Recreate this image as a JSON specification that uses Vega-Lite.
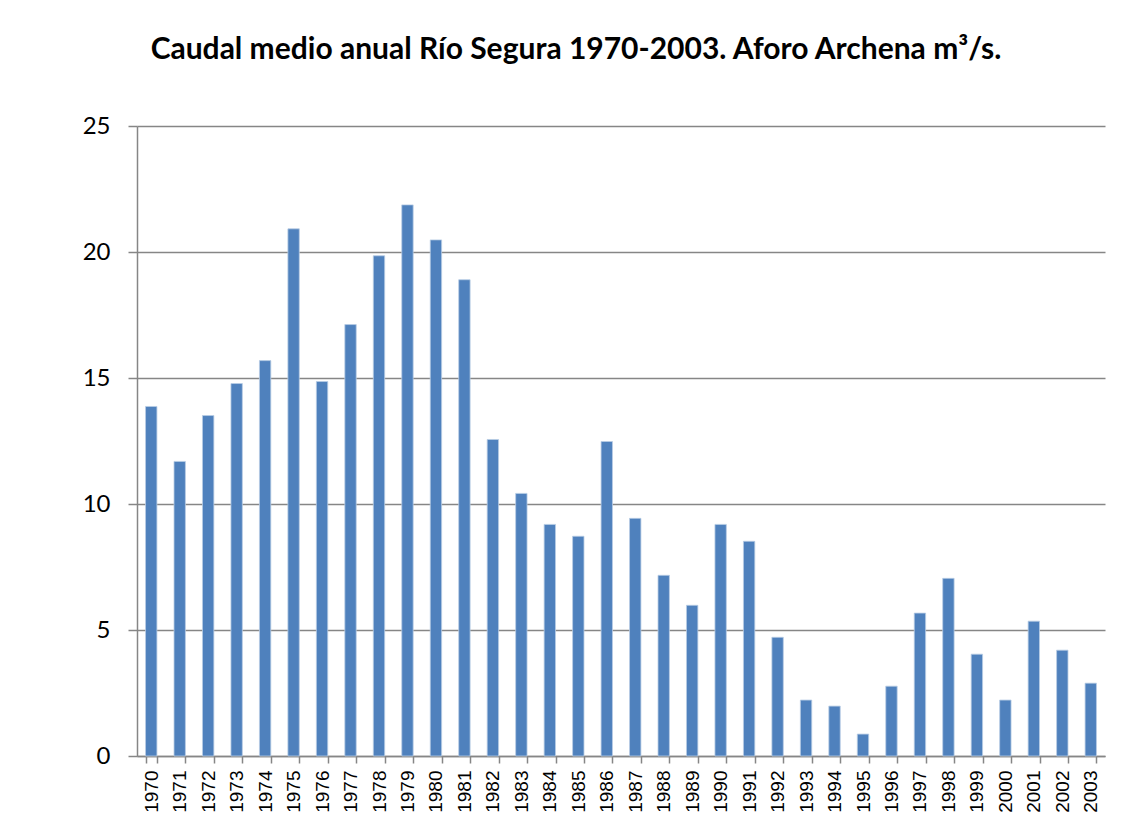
{
  "$schema": "https://vega.github.io/schema/vega-lite/v6.json",
  "autosize": {"type": "none"},
  "width": 968,
  "height": 630,
  "padding": {"left": 137, "top": 126, "right": 33, "bottom": 69},
  "background": "white",
  "title": {
    "text": "Caudal medio anual Río Segura 1970-2003. Aforo Archena m³/s.",
    "font": "Lato",
    "fontSize": 30,
    "fontWeight": "bold",
    "color": "black",
    "anchor": "middle",
    "dx": -45,
    "offset": 49
  },
  "data": {
    "values": [
      {"year": "1970", "caudal": 13.87},
      {"year": "1971", "caudal": 11.69},
      {"year": "1972", "caudal": 13.51},
      {"year": "1973", "caudal": 14.78},
      {"year": "1974", "caudal": 15.69},
      {"year": "1975", "caudal": 20.92},
      {"year": "1976", "caudal": 14.86},
      {"year": "1977", "caudal": 17.12},
      {"year": "1978", "caudal": 19.85},
      {"year": "1979", "caudal": 21.87},
      {"year": "1980", "caudal": 20.48},
      {"year": "1981", "caudal": 18.9},
      {"year": "1982", "caudal": 12.56},
      {"year": "1983", "caudal": 10.42},
      {"year": "1984", "caudal": 9.19},
      {"year": "1985", "caudal": 8.72},
      {"year": "1986", "caudal": 12.48},
      {"year": "1987", "caudal": 9.43},
      {"year": "1988", "caudal": 7.17},
      {"year": "1989", "caudal": 5.98},
      {"year": "1990", "caudal": 9.19},
      {"year": "1991", "caudal": 8.52},
      {"year": "1992", "caudal": 4.71},
      {"year": "1993", "caudal": 2.22},
      {"year": "1994", "caudal": 1.98},
      {"year": "1995", "caudal": 0.87},
      {"year": "1996", "caudal": 2.77},
      {"year": "1997", "caudal": 5.67},
      {"year": "1998", "caudal": 7.05},
      {"year": "1999", "caudal": 4.04},
      {"year": "2000", "caudal": 2.22},
      {"year": "2001", "caudal": 5.35},
      {"year": "2002", "caudal": 4.2},
      {"year": "2003", "caudal": 2.89}
    ]
  },
  "mark": {"type": "bar", "color": "#4F81BD", "stroke": "#B9CDE5", "strokeWidth": 0.8},
  "encoding": {
    "x": {
      "field": "year",
      "type": "ordinal",
      "title": null,
      "scale": {"paddingInner": 0.6, "paddingOuter": 0.3},
      "axis": {
        "tickBand": "extent",
        "labelAngle": -90,
        "labelAlign": "right",
        "labelBaseline": "middle",
        "labelFont": "Liberation Sans",
        "labelFontSize": 19,
        "labelColor": "black",
        "labelPadding": 7,
        "tickSize": 7,
        "tickColor": "#868686",
        "tickWidth": 1.5,
        "domainColor": "#868686",
        "domainWidth": 1.5,
        "grid": false
      }
    },
    "y": {
      "field": "caudal",
      "type": "quantitative",
      "title": null,
      "scale": {"domain": [0, 25], "nice": false},
      "axis": {
        "values": [0, 5, 10, 15, 20, 25],
        "labelFont": "Lato",
        "labelFontSize": 24,
        "labelColor": "black",
        "labelPadding": 18,
        "tickSize": 9,
        "tickColor": "#868686",
        "tickWidth": 1.5,
        "domainColor": "#868686",
        "domainWidth": 1.5,
        "grid": true,
        "gridColor": "#868686",
        "gridWidth": 1.5
      }
    }
  },
  "config": {"view": {"stroke": null}}
}
